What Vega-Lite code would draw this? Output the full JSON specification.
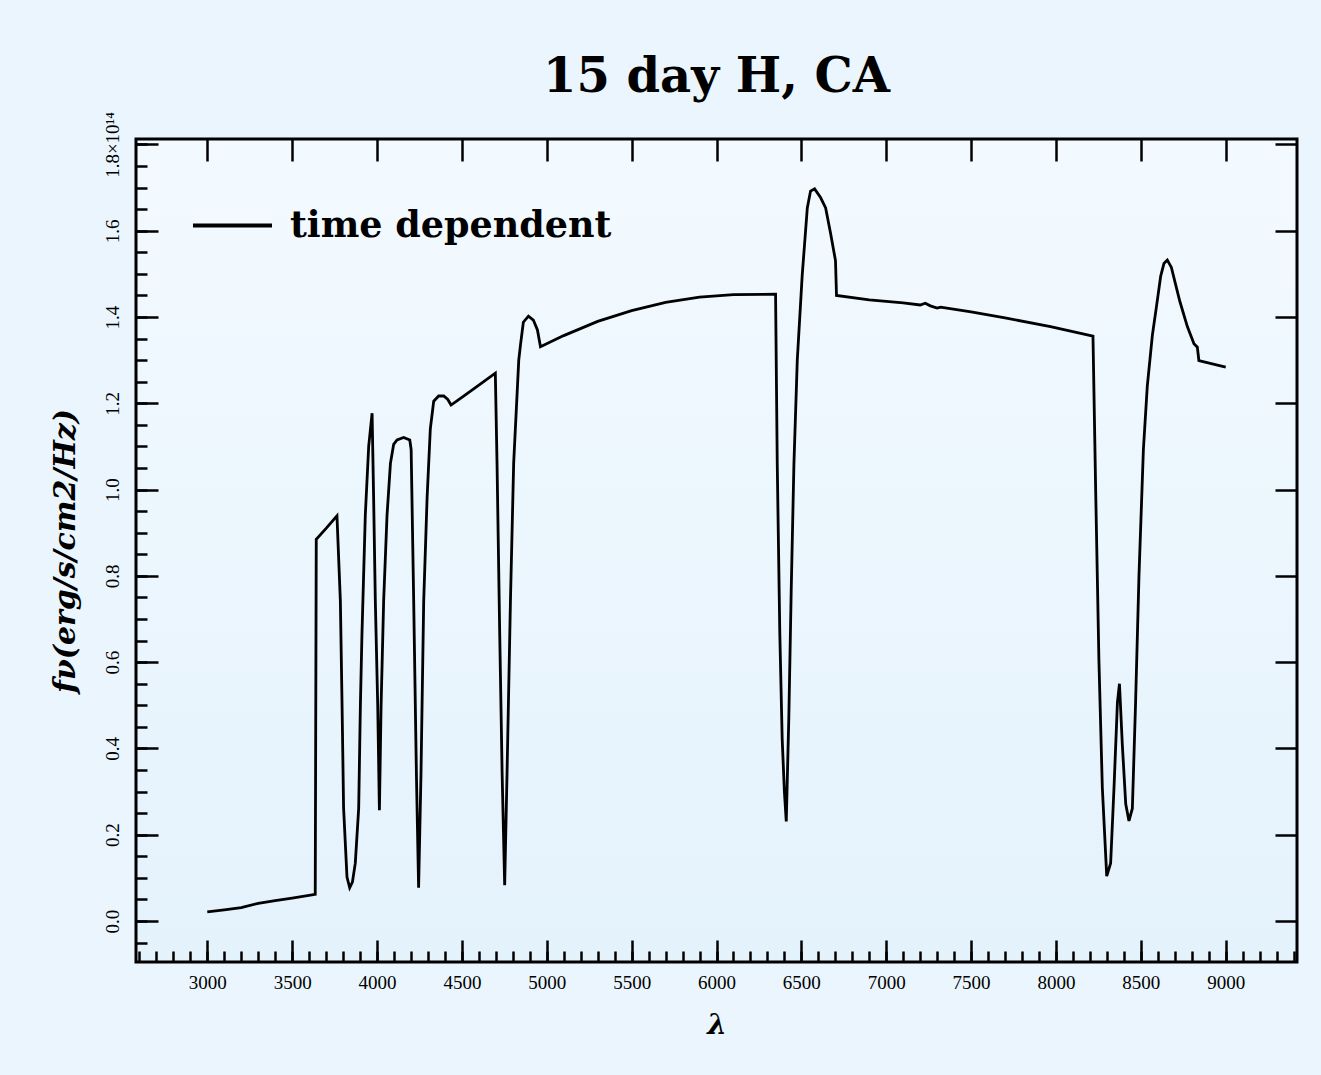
{
  "$schema": "https://vega.github.io/schema/vega-lite/v6.json",
  "width": 1161,
  "height": 823,
  "autosize": {"type": "none"},
  "padding": {"left": 136, "top": 139, "right": 24, "bottom": 113},
  "background": "#eaf5fd",
  "title": {"text": "15 day H, CA", "font": "DejaVu Serif", "fontSize": 48, "fontWeight": "bold", "color": "black", "anchor": "middle", "frame": "group", "baseline": "alphabetic", "offset": 44, "dy": 72},
  "data": {"values": [
    {"wavelength": 3000, "flux": 0.021, "series": "time dependent"},
    {"wavelength": 3100, "flux": 0.026, "series": "time dependent"},
    {"wavelength": 3200, "flux": 0.031, "series": "time dependent"},
    {"wavelength": 3300, "flux": 0.041, "series": "time dependent"},
    {"wavelength": 3400, "flux": 0.047, "series": "time dependent"},
    {"wavelength": 3500, "flux": 0.053, "series": "time dependent"},
    {"wavelength": 3636, "flux": 0.062, "series": "time dependent"},
    {"wavelength": 3642, "flux": 0.885, "series": "time dependent"},
    {"wavelength": 3700, "flux": 0.910, "series": "time dependent"},
    {"wavelength": 3764, "flux": 0.939, "series": "time dependent"},
    {"wavelength": 3784, "flux": 0.742, "series": "time dependent"},
    {"wavelength": 3794, "flux": 0.501, "series": "time dependent"},
    {"wavelength": 3803, "flux": 0.262, "series": "time dependent"},
    {"wavelength": 3823, "flux": 0.102, "series": "time dependent"},
    {"wavelength": 3839, "flux": 0.077, "series": "time dependent"},
    {"wavelength": 3855, "flux": 0.090, "series": "time dependent"},
    {"wavelength": 3872, "flux": 0.134, "series": "time dependent"},
    {"wavelength": 3892, "flux": 0.262, "series": "time dependent"},
    {"wavelength": 3902, "flux": 0.501, "series": "time dependent"},
    {"wavelength": 3911, "flux": 0.661, "series": "time dependent"},
    {"wavelength": 3931, "flux": 0.941, "series": "time dependent"},
    {"wavelength": 3951, "flux": 1.101, "series": "time dependent"},
    {"wavelength": 3971, "flux": 1.177, "series": "time dependent"},
    {"wavelength": 3980, "flux": 0.980, "series": "time dependent"},
    {"wavelength": 3990, "flux": 0.742, "series": "time dependent"},
    {"wavelength": 4004, "flux": 0.501, "series": "time dependent"},
    {"wavelength": 4014, "flux": 0.257, "series": "time dependent"},
    {"wavelength": 4024, "flux": 0.501, "series": "time dependent"},
    {"wavelength": 4039, "flux": 0.742, "series": "time dependent"},
    {"wavelength": 4059, "flux": 0.941, "series": "time dependent"},
    {"wavelength": 4079, "flux": 1.061, "series": "time dependent"},
    {"wavelength": 4098, "flux": 1.105, "series": "time dependent"},
    {"wavelength": 4118, "flux": 1.115, "series": "time dependent"},
    {"wavelength": 4157, "flux": 1.121, "series": "time dependent"},
    {"wavelength": 4193, "flux": 1.115, "series": "time dependent"},
    {"wavelength": 4201, "flux": 1.093, "series": "time dependent"},
    {"wavelength": 4216, "flux": 0.742, "series": "time dependent"},
    {"wavelength": 4232, "flux": 0.341, "series": "time dependent"},
    {"wavelength": 4245, "flux": 0.077, "series": "time dependent"},
    {"wavelength": 4259, "flux": 0.341, "series": "time dependent"},
    {"wavelength": 4275, "flux": 0.742, "series": "time dependent"},
    {"wavelength": 4295, "flux": 0.981, "series": "time dependent"},
    {"wavelength": 4314, "flux": 1.141, "series": "time dependent"},
    {"wavelength": 4334, "flux": 1.205, "series": "time dependent"},
    {"wavelength": 4363, "flux": 1.217, "series": "time dependent"},
    {"wavelength": 4393, "flux": 1.217, "series": "time dependent"},
    {"wavelength": 4417, "flux": 1.209, "series": "time dependent"},
    {"wavelength": 4436, "flux": 1.196, "series": "time dependent"},
    {"wavelength": 4500, "flux": 1.214, "series": "time dependent"},
    {"wavelength": 4600, "flux": 1.242, "series": "time dependent"},
    {"wavelength": 4697, "flux": 1.270, "series": "time dependent"},
    {"wavelength": 4707, "flux": 1.061, "series": "time dependent"},
    {"wavelength": 4723, "flux": 0.662, "series": "time dependent"},
    {"wavelength": 4737, "flux": 0.343, "series": "time dependent"},
    {"wavelength": 4752, "flux": 0.083, "series": "time dependent"},
    {"wavelength": 4766, "flux": 0.343, "series": "time dependent"},
    {"wavelength": 4786, "flux": 0.742, "series": "time dependent"},
    {"wavelength": 4805, "flux": 1.061, "series": "time dependent"},
    {"wavelength": 4835, "flux": 1.300, "series": "time dependent"},
    {"wavelength": 4845, "flux": 1.335, "series": "time dependent"},
    {"wavelength": 4862, "flux": 1.388, "series": "time dependent"},
    {"wavelength": 4892, "flux": 1.402, "series": "time dependent"},
    {"wavelength": 4921, "flux": 1.393, "series": "time dependent"},
    {"wavelength": 4945, "flux": 1.370, "series": "time dependent"},
    {"wavelength": 4963, "flux": 1.331, "series": "time dependent"},
    {"wavelength": 5100, "flux": 1.357, "series": "time dependent"},
    {"wavelength": 5300, "flux": 1.390, "series": "time dependent"},
    {"wavelength": 5500, "flux": 1.415, "series": "time dependent"},
    {"wavelength": 5700, "flux": 1.434, "series": "time dependent"},
    {"wavelength": 5900, "flux": 1.446, "series": "time dependent"},
    {"wavelength": 6100, "flux": 1.452, "series": "time dependent"},
    {"wavelength": 6348, "flux": 1.453, "series": "time dependent"},
    {"wavelength": 6358, "flux": 1.057, "series": "time dependent"},
    {"wavelength": 6373, "flux": 0.666, "series": "time dependent"},
    {"wavelength": 6387, "flux": 0.422, "series": "time dependent"},
    {"wavelength": 6400, "flux": 0.300, "series": "time dependent"},
    {"wavelength": 6411, "flux": 0.231, "series": "time dependent"},
    {"wavelength": 6426, "flux": 0.470, "series": "time dependent"},
    {"wavelength": 6440, "flux": 0.764, "series": "time dependent"},
    {"wavelength": 6456, "flux": 1.057, "series": "time dependent"},
    {"wavelength": 6476, "flux": 1.301, "series": "time dependent"},
    {"wavelength": 6505, "flux": 1.497, "series": "time dependent"},
    {"wavelength": 6535, "flux": 1.653, "series": "time dependent"},
    {"wavelength": 6554, "flux": 1.692, "series": "time dependent"},
    {"wavelength": 6578, "flux": 1.697, "series": "time dependent"},
    {"wavelength": 6613, "flux": 1.677, "series": "time dependent"},
    {"wavelength": 6643, "flux": 1.653, "series": "time dependent"},
    {"wavelength": 6672, "flux": 1.594, "series": "time dependent"},
    {"wavelength": 6701, "flux": 1.531, "series": "time dependent"},
    {"wavelength": 6707, "flux": 1.450, "series": "time dependent"},
    {"wavelength": 6900, "flux": 1.440, "series": "time dependent"},
    {"wavelength": 7100, "flux": 1.433, "series": "time dependent"},
    {"wavelength": 7200, "flux": 1.428, "series": "time dependent"},
    {"wavelength": 7230, "flux": 1.432, "series": "time dependent"},
    {"wavelength": 7260, "flux": 1.426, "series": "time dependent"},
    {"wavelength": 7300, "flux": 1.421, "series": "time dependent"},
    {"wavelength": 7320, "flux": 1.423, "series": "time dependent"},
    {"wavelength": 7500, "flux": 1.412, "series": "time dependent"},
    {"wavelength": 7700, "flux": 1.398, "series": "time dependent"},
    {"wavelength": 7968, "flux": 1.378, "series": "time dependent"},
    {"wavelength": 8218, "flux": 1.356, "series": "time dependent"},
    {"wavelength": 8234, "flux": 0.996, "series": "time dependent"},
    {"wavelength": 8253, "flux": 0.604, "series": "time dependent"},
    {"wavelength": 8273, "flux": 0.310, "series": "time dependent"},
    {"wavelength": 8299, "flux": 0.104, "series": "time dependent"},
    {"wavelength": 8322, "flux": 0.134, "series": "time dependent"},
    {"wavelength": 8342, "flux": 0.310, "series": "time dependent"},
    {"wavelength": 8362, "flux": 0.506, "series": "time dependent"},
    {"wavelength": 8374, "flux": 0.550, "series": "time dependent"},
    {"wavelength": 8391, "flux": 0.408, "series": "time dependent"},
    {"wavelength": 8411, "flux": 0.271, "series": "time dependent"},
    {"wavelength": 8430, "flux": 0.232, "series": "time dependent"},
    {"wavelength": 8450, "flux": 0.261, "series": "time dependent"},
    {"wavelength": 8469, "flux": 0.506, "series": "time dependent"},
    {"wavelength": 8489, "flux": 0.800, "series": "time dependent"},
    {"wavelength": 8515, "flux": 1.093, "series": "time dependent"},
    {"wavelength": 8538, "flux": 1.240, "series": "time dependent"},
    {"wavelength": 8568, "flux": 1.358, "series": "time dependent"},
    {"wavelength": 8593, "flux": 1.427, "series": "time dependent"},
    {"wavelength": 8617, "flux": 1.495, "series": "time dependent"},
    {"wavelength": 8636, "flux": 1.524, "series": "time dependent"},
    {"wavelength": 8656, "flux": 1.532, "series": "time dependent"},
    {"wavelength": 8680, "flux": 1.515, "series": "time dependent"},
    {"wavelength": 8705, "flux": 1.475, "series": "time dependent"},
    {"wavelength": 8730, "flux": 1.436, "series": "time dependent"},
    {"wavelength": 8774, "flux": 1.378, "series": "time dependent"},
    {"wavelength": 8813, "flux": 1.338, "series": "time dependent"},
    {"wavelength": 8833, "flux": 1.330, "series": "time dependent"},
    {"wavelength": 8842, "flux": 1.299, "series": "time dependent"},
    {"wavelength": 9000, "flux": 1.284, "series": "time dependent"}
  ]},
  "layer": [
    {
      "mark": {"type": "line", "strokeWidth": 2.8},
      "encoding": {
        "x": {"field": "wavelength", "type": "quantitative",
              "scale": {"domain": [2580, 9420], "nice": false, "zero": false},
              "axis": {"orient": "bottom", "values": [3000, 3500, 4000, 4500, 5000, 5500, 6000, 6500, 7000, 7500, 8000, 8500, 9000],
                       "ticks": false, "domain": false, "grid": false, "format": "d",
                       "labelFont": "Liberation Serif", "labelFontSize": 19, "labelColor": "black", "labelPadding": 11, "labelBaseline": "top",
                       "title": "λ", "titleFont": "DejaVu Serif", "titleFontSize": 28, "titleFontWeight": "bold", "titleFontStyle": "italic", "titleColor": "black",
                       "titleX": 580.5, "titleY": 63, "titleAlign": "center", "titleBaseline": "middle"}},
        "y": {"field": "flux", "type": "quantitative",
              "scale": {"domain": [-0.095, 1.8127], "nice": false, "zero": false},
              "axis": {"orient": "left", "values": [0, 0.2, 0.4, 0.6, 0.8, 1.0, 1.2, 1.4, 1.6, 1.8],
                       "ticks": false, "domain": false, "grid": false,
                       "labelExpr": "datum.value > 1.75 ? '1.8×10¹⁴' : format(datum.value, '.1f')",
                       "labelFont": "Liberation Serif", "labelFontSize": 19, "labelColor": "black", "labelPadding": 18,
                       "labelAngle": 270, "labelAlign": "center", "labelBaseline": "alphabetic",
                       "title": "fν(erg/s/cm2/Hz)", "titleFont": "DejaVu Serif", "titleFontSize": 30, "titleFontWeight": "bold", "titleFontStyle": "italic", "titleColor": "black",
                       "titleAngle": 270, "titleX": -71, "titleY": 411.5, "titleAlign": "center", "titleBaseline": "middle"}},
        "color": {"field": "series", "type": "nominal",
                  "scale": {"domain": ["time dependent"], "range": ["black"]},
                  "legend": {"orient": "none", "legendX": 55, "legendY": 45, "title": null, "padding": 0,
                             "symbolType": "stroke", "symbolSize": 6241, "symbolStrokeWidth": 4,
                             "labelFont": "DejaVu Serif", "labelFontWeight": "bold", "labelFontSize": 36.5, "labelColor": "black",
                             "labelOffset": 16, "labelLimit": 800}}
      }
    },
    {
      "mark": {"type": "line", "opacity": 0},
      "encoding": {
        "x": {"field": "wavelength", "type": "quantitative",
              "scale": {"domain": [2580, 9420], "nice": false, "zero": false},
              "axis": {"orient": "bottom", "values": [3000, 3500, 4000, 4500, 5000, 5500, 6000, 6500, 7000, 7500, 8000, 8500, 9000],
                       "labels": false, "domain": false, "grid": false, "ticks": true, "tickSize": -22, "tickWidth": 2.5, "tickColor": "black", "title": null}},
        "y": {"field": "flux", "type": "quantitative",
              "scale": {"domain": [-0.095, 1.8127], "nice": false, "zero": false},
              "axis": {"orient": "left", "values": [0, 0.2, 0.4, 0.6, 0.8, 1.0, 1.2, 1.4, 1.6, 1.8],
                       "labels": false, "domain": false, "grid": false, "ticks": true, "tickSize": -22, "tickWidth": 2.5, "tickColor": "black", "title": null}}
      }
    },
    {
      "mark": {"type": "line", "opacity": 0},
      "encoding": {
        "x": {"field": "wavelength", "type": "quantitative",
              "scale": {"domain": [2580, 9420], "nice": false, "zero": false},
              "axis": {"orient": "bottom", "values": [2600, 2700, 2800, 2900, 3000, 3100, 3200, 3300, 3400, 3500, 3600, 3700, 3800, 3900, 4000, 4100, 4200, 4300, 4400, 4500, 4600, 4700, 4800, 4900, 5000, 5100, 5200, 5300, 5400, 5500, 5600, 5700, 5800, 5900, 6000, 6100, 6200, 6300, 6400, 6500, 6600, 6700, 6800, 6900, 7000, 7100, 7200, 7300, 7400, 7500, 7600, 7700, 7800, 7900, 8000, 8100, 8200, 8300, 8400, 8500, 8600, 8700, 8800, 8900, 9000, 9100, 9200, 9300, 9400],
                       "labels": false, "domain": false, "grid": false, "ticks": true, "tickSize": -11, "tickWidth": 2.5, "tickColor": "black", "title": null}},
        "y": {"field": "flux", "type": "quantitative",
              "scale": {"domain": [-0.095, 1.8127], "nice": false, "zero": false},
              "axis": {"orient": "left", "values": [-0.05, 0, 0.05, 0.1, 0.15, 0.2, 0.25, 0.3, 0.35, 0.4, 0.45, 0.5, 0.55, 0.6, 0.65, 0.7, 0.75, 0.8, 0.85, 0.9, 0.95, 1.0, 1.05, 1.1, 1.15, 1.2, 1.25, 1.3, 1.35, 1.4, 1.45, 1.5, 1.55, 1.6, 1.65, 1.7, 1.75, 1.8],
                       "labels": false, "domain": false, "grid": false, "ticks": true, "tickSize": -11, "tickWidth": 2.5, "tickColor": "black", "title": null}}
      }
    },
    {
      "mark": {"type": "line", "opacity": 0},
      "encoding": {
        "x": {"field": "wavelength", "type": "quantitative",
              "scale": {"domain": [2580, 9420], "nice": false, "zero": false},
              "axis": {"orient": "top", "values": [3000, 3500, 4000, 4500, 5000, 5500, 6000, 6500, 7000, 7500, 8000, 8500, 9000],
                       "labels": false, "domain": false, "grid": false, "ticks": true, "tickSize": -22, "tickWidth": 2.5, "tickColor": "black", "title": null}},
        "y": {"field": "flux", "type": "quantitative",
              "scale": {"domain": [-0.095, 1.8127], "nice": false, "zero": false},
              "axis": {"orient": "right", "values": [0, 0.2, 0.4, 0.6, 0.8, 1.0, 1.2, 1.4, 1.6, 1.8],
                       "labels": false, "domain": false, "grid": false, "ticks": true, "tickSize": -22, "tickWidth": 2.5, "tickColor": "black", "title": null}}
      }
    }
  ],
  "resolve": {"axis": {"x": "independent", "y": "independent"}},
  "config": {
    "view": {"stroke": "black", "strokeWidth": 3,
             "fill": {"gradient": "linear", "x1": 0, "y1": 0, "x2": 0, "y2": 1,
                      "stops": [{"offset": 0, "color": "#f3faff"}, {"offset": 1, "color": "#e4f2fc"}]}},
    "axis": {"grid": false}
  }
}
